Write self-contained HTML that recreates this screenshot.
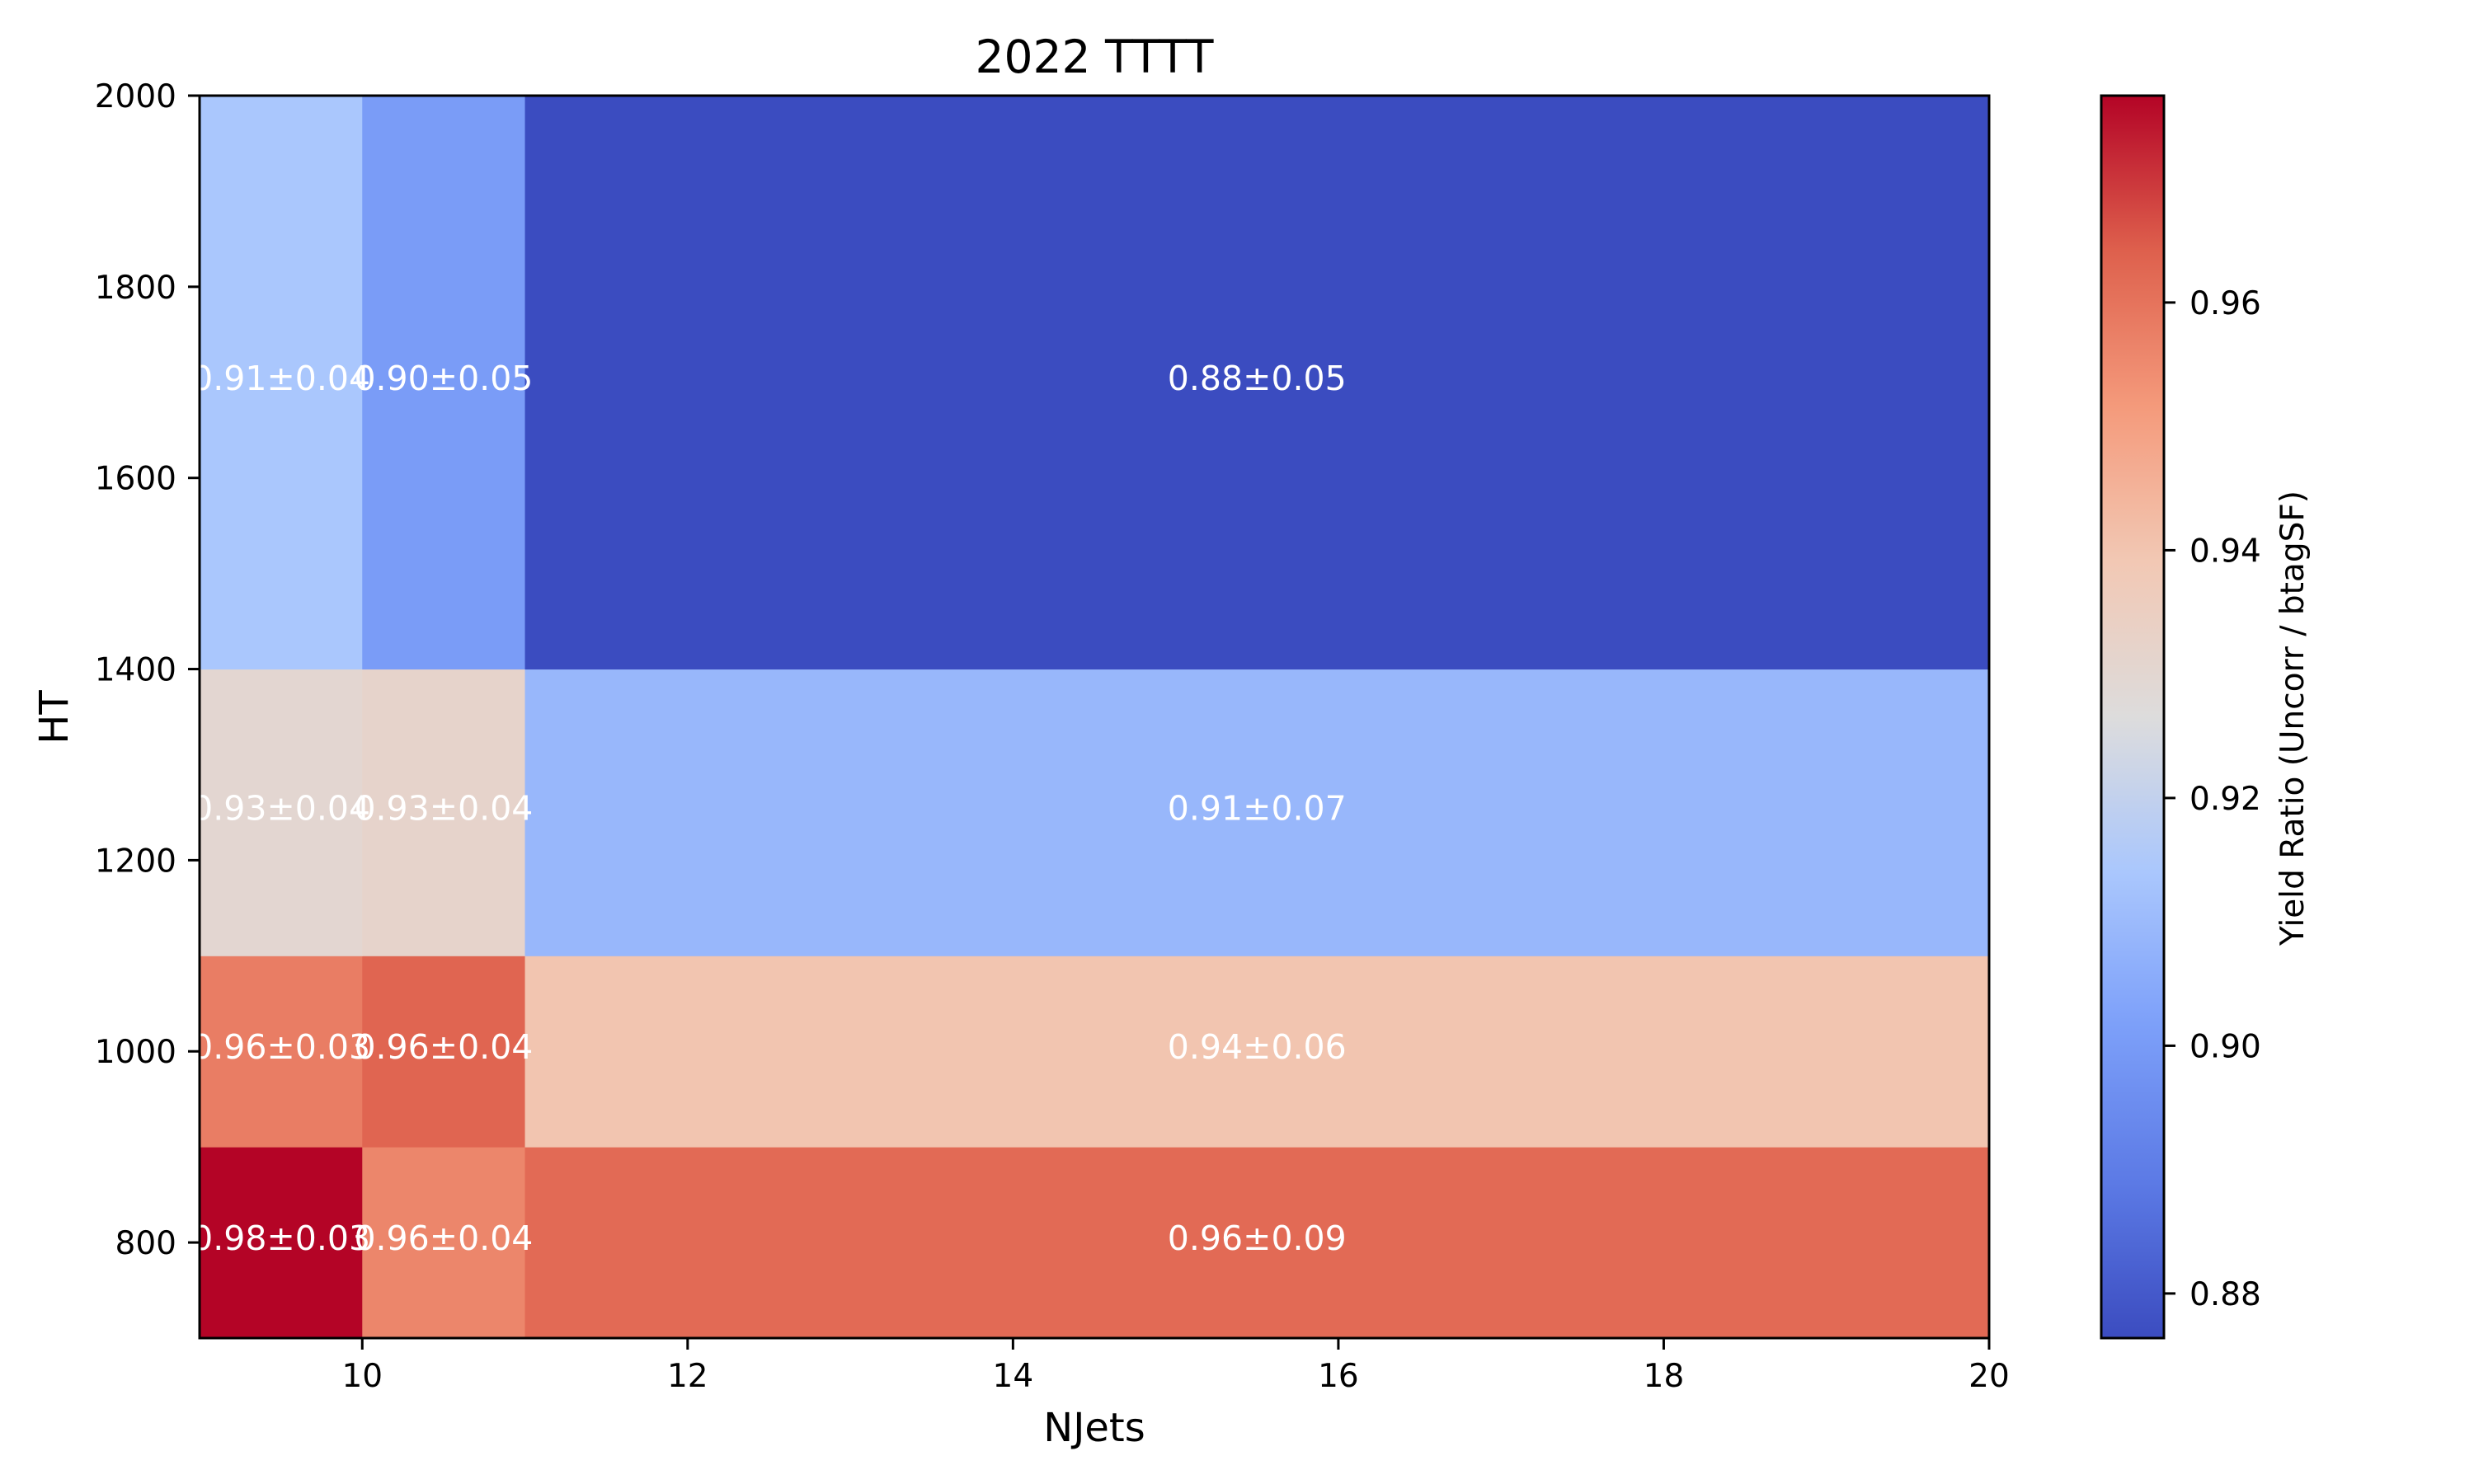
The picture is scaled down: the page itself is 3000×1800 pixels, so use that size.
<!DOCTYPE html>
<html><head><meta charset="utf-8"><style>
html,body{margin:0;padding:0;background:#fff;}
svg{display:block;font-family:"DejaVu Sans","Liberation Sans",sans-serif;}
</style></head><body>
<svg id="chart" width="3000" height="1800" viewBox="0 0 3000 1800" xmlns="http://www.w3.org/2000/svg">
<rect width="3000" height="1800" fill="#fff"/>
<text x="1327" y="88" font-size="55" text-anchor="middle">2022 TTTT</text>
<g id="cells"></g>
<g id="labels"></g>
<rect x="242" y="116" width="2170" height="1507" fill="none" stroke="#000" stroke-width="3"/>
<g id="xticks"></g>
<g id="yticks"></g>
<text x="1327" y="1748" font-size="48" text-anchor="middle">NJets</text>
<text transform="translate(82,870) rotate(-90)" font-size="48" text-anchor="middle">HT</text>
<defs><linearGradient id="cbgrad" x1="0" y1="1" x2="0" y2="0"></linearGradient></defs>
<rect x="2548" y="116" width="76" height="1507" fill="url(#cbgrad)" stroke="#000" stroke-width="3"/>
<g id="cbticks"></g>
<text transform="translate(2793,871) rotate(-90)" font-size="39" text-anchor="middle">Yield Ratio (Uncorr / btagSF)</text>
</svg>
<script>
const xEdges = [9, 10, 11, 20];
const yEdges = [700, 900, 1100, 1400, 2000];
// values[row][col], rows bottom->top
const row700 = [0.9767, 0.956, 0.962];
const row900 = [0.958, 0.963, 0.940];
const row1100 = [0.930, 0.932, 0.909];
const row1400 = [0.914, 0.9005, 0.8764];
const err700 = ["0.03", "0.04", "0.09"];
const err900 = ["0.03", "0.04", "0.06"];
const err1100 = ["0.04", "0.04", "0.07"];
const err1400 = ["0.04", "0.05", "0.05"];
const xTicks = [10, 12, 14, 16, 18, 20];
const yTicks = [800, 1000, 1200, 1400, 1600, 1800, 2000];
const cbTicks = [0.88, 0.90, 0.92, 0.94, 0.96];
const vmin = 0.8764, vmax = 0.9767;

const values = [row700, row900, row1100, row1400];
const errs = [err700, err900, err1100, err1400];
const L = 242, R = 2412, T = 116, B = 1623;
const sx = v => L + (v - 9) / (20 - 9) * (R - L);
const sy = v => B - (v - 700) / (2000 - 700) * (B - T);
const cy = v => B - (v - vmin) / (vmax - vmin) * (B - T);
const NS = "http://www.w3.org/2000/svg";
const stops = [[0,[59,76,192]],[0.125,[92,122,229]],[0.25,[124,159,249]],[0.375,[170,199,253]],[0.5,[221,220,220]],[0.625,[242,200,180]],[0.75,[244,154,123]],[0.875,[222,96,77]],[1,[180,4,38]]];
function cmap(t){t=Math.max(0,Math.min(1,t));for(let i=1;i<stops.length;i++){if(t<=stops[i][0]){const a=stops[i-1],b=stops[i];const f=(t-a[0])/(b[0]-a[0]);const c=a[1].map((v,k)=>Math.round(v+(b[1][k]-v)*f));return `rgb(${c[0]},${c[1]},${c[2]})`;}}return "rgb(180,4,38)";}
function mk(tag, attrs, parent){const e=document.createElementNS(NS,tag);for(const k in attrs)e.setAttribute(k,attrs[k]);parent.appendChild(e);return e;}
const cells=document.getElementById('cells'), labels=document.getElementById('labels');
for(let r=0;r<values.length;r++){for(let c=0;c<values[r].length;c++){
  const v=values[r][c];
  const x0=sx(xEdges[c]), x1=sx(xEdges[c+1]), y0=sy(yEdges[r+1]), y1=sy(yEdges[r]);
  const rc=mk('rect',{x:x0,y:y0,width:x1-x0+0.5,height:y1-y0+0.5,fill:cmap((v-vmin)/(vmax-vmin))},cells);
  
  
  const t=mk('text',{x:(x0+x1)/2,y:(y0+y1)/2+9,'font-size':41,fill:'#fff','text-anchor':'middle'},labels);
  t.textContent=v.toFixed(2)+'±'+errs[r][c];
  
  
}}
const xt=document.getElementById('xticks');
xTicks.forEach(v=>{const x=sx(v);
  const l=mk('line',{x1:x,x2:x,y1:B,y2:B+14,stroke:'#000','stroke-width':3},xt);
  
  
  const t=mk('text',{x:x,y:1682,'font-size':39,'text-anchor':'middle'},xt);t.textContent=v;
  
  
});
const yt=document.getElementById('yticks');
yTicks.forEach(v=>{const y=sy(v);
  const l=mk('line',{x1:L-14,x2:L,y1:y,y2:y,stroke:'#000','stroke-width':3},yt);
  
  
  const t=mk('text',{x:L-28,y:y+14,'font-size':39,'text-anchor':'end'},yt);t.textContent=v;
  
  
});
const g=document.getElementById('cbgrad');
for(let i=0;i<=40;i++){mk('stop',{offset:i/40,'stop-color':cmap(i/40)},g);}
const cb=document.getElementById('cbticks');
cbTicks.forEach(v=>{const y=cy(v);
  const l=mk('line',{x1:2624,x2:2638,y1:y,y2:y,stroke:'#000','stroke-width':3},cb);
  
  
  const t=mk('text',{x:2655,y:y+14,'font-size':39},cb);t.textContent=v.toFixed(2);
  
  
});
</script>
</body></html>
